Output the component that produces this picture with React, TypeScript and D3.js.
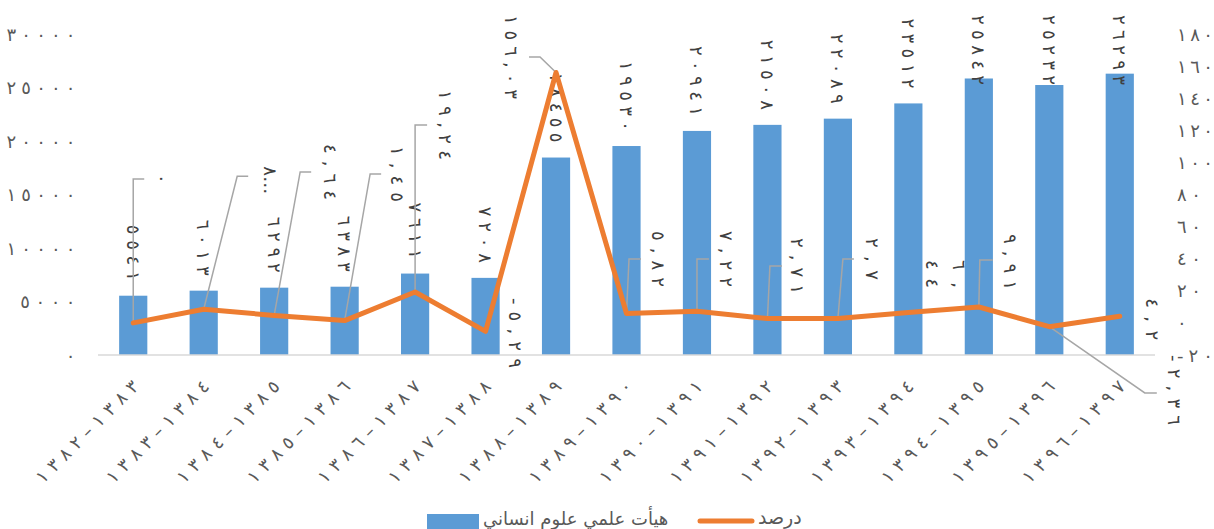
import React from 'react';
import * as d3 from 'd3';

// Academic staff in humanities and yearly growth rate (Iranian calendar years)
const categories = [
  '١٣٨٢–١٣٨٣', '١٣٨٣–١٣٨٤', '١٣٨٤–١٣٨٥', '١٣٨٥–١٣٨٦', '١٣٨٦–١٣٨٧',
  '١٣٨٧–١٣٨٨', '١٣٨٨–١٣٨٩', '١٣٨٩–١٣٩٠', '١٣٩٠–١٣٩١', '١٣٩١–١٣٩٢',
  '١٣٩٢–١٣٩٣', '١٣٩٣–١٣٩٤', '١٣٩٤–١٣٩٥', '١٣٩٥–١٣٩٦', '١٣٩٦–١٣٩٧',
];
const staffCounts = [5541, 6013, 6292, 6383, 7611, 7208, 18455, 19530, 20941, 21508, 22089, 23512, 25842, 25232, 26293];
const growthPercent = [0, 8.52, 4.64, 1.45, 19.24, -5.29, 156.03, 5.82, 7.22, 2.71, 2.7, 6.44, 9.91, -2.36, 4.2];
const leftTicks = [0, 5000, 10000, 15000, 20000, 25000, 30000];
const rightTicks = [-20, 0, 20, 40, 60, 80, 100, 120, 140, 160, 180];
const seriesNames = ['هيأت علمي علوم انساني', 'درصد'];

// Placement of each percentage label relative to its point:
// (lx, ly) label centre, (ex, ey) leader elbow, hx horizontal run after the elbow.
type Callout = { lx: number; ly: number; ex?: number; ey?: number; hx?: number; truncate?: number; wrap?: boolean };
const callouts: Callout[] = [
  { lx: 29, ly: -144, ex: 0, ey: -144, hx: 11 },
  { lx: 66.5, ly: -129, ex: 33.5, ey: -133, hx: 11, truncate: 1 },
  { lx: 56, ly: -143.5, ex: 26, ey: -143.5, hx: 11 },
  { lx: 52.5, ly: -146.6, ex: 25.5, ey: -146.6, hx: 11 },
  { lx: 30, ly: -167, ex: 0, ey: -167, hx: 12 },
  { lx: 29.5, ly: 1.5 },
  { lx: -45, ly: -15.5, ex: -16, ey: -15.5, hx: -11 },
  { lx: 31.5, ly: -54.6, ex: 2.5, ey: -54.6, hx: 12 },
  { lx: 30, ly: -52.3, ex: 0, ey: -52.3, hx: 12 },
  { lx: 30.5, ly: -52.5, ex: 2.5, ey: -52.5, hx: 12 },
  { lx: 35, ly: -59.6, ex: 5, ey: -59.6, hx: 11 },
  { lx: 37.5, ly: -38.6, wrap: true },
  { lx: 32, ly: -45, ex: 1, ey: -47, hx: 13 },
  { lx: 125.5, ly: 63.3, ex: 95.5, ey: 66.3, hx: 12 },
  { lx: 33, ly: 3 },
];

const W = 1214;
const H = 529;
const plot = { left: 98, right: 1155, top: 34, bottom: 355 };
const FONT = '"DejaVu Sans", sans-serif';
const LABEL_GRAY = '#404040';
const AXIS_GRAY = '#595959';
const BAR_BLUE = '#5B9BD5';
const LINE_ORANGE = '#ED7D31';

const arabicDigits = '٠١٢٣٤٥٦٧٨٩';
const toArabic = (s: string) => s.replace(/[0-9]/g, (d) => arabicDigits[+d]).replace(/\./g, ',').replace(/\u2212/g, '-');
const fmtPct = d3.format('.2~f');

const ltrNumber: React.CSSProperties = { unicodeBidi: 'bidi-override', direction: 'ltr' };

export default function App() {
  const x = d3.scaleBand<string>().domain(categories).range([plot.left, plot.right]).paddingInner(0.6).paddingOuter(0.3);
  const yL = d3.scaleLinear().domain([0, 30000]).range([plot.bottom, plot.top]);
  const yR = d3.scaleLinear().domain([-20, 180]).range([plot.bottom, plot.top]);
  const cx = (i: number) => (x(categories[i]) as number) + x.bandwidth() / 2;

  const line = d3
    .line<number>()
    .x((_, i) => cx(i))
    .y((d) => yR(d));

  const BAR_ADV = 14;
  const PCT_ADV = 14;
  const NUM_FS = 18;

  return (
    <svg width={W} height={H} style={{ position: 'absolute', left: 0, top: 0, fontFamily: FONT }}>
      <rect width={W} height={H} fill="#fff" />

      {/* left axis ticks */}
      {leftTicks.map((t) => {
        const s = toArabic(String(t));
        return (
          <text key={'l' + t} x={75.5} y={yL(t)} textAnchor="end" dominantBaseline="central" fontSize={NUM_FS}
            fill={AXIS_GRAY} textLength={s.length * 13.8} lengthAdjust="spacing" style={ltrNumber}>
            {s}
          </text>
        );
      })}

      {/* right axis ticks */}
      {rightTicks.map((t) => {
        const s = toArabic(String(t));
        return (
          <text key={'r' + t} x={1177} y={yR(t)} textAnchor="start" dominantBaseline="central" fontSize={NUM_FS}
            fill={AXIS_GRAY} textLength={s.length * 12} lengthAdjust="spacing" style={ltrNumber}>
            {s}
          </text>
        );
      })}

      {/* bars */}
      {staffCounts.map((v, i) => (
        <rect key={'b' + i} x={x(categories[i])} y={yL(v)} width={x.bandwidth()} height={yL(0) - yL(v)} fill={BAR_BLUE} />
      ))}

      {/* category axis line */}
      <line x1={plot.left} x2={plot.right} y1={plot.bottom} y2={plot.bottom} stroke="#D9D9D9" strokeWidth={1.3} />

      {/* category labels */}
      {categories.map((c, i) => {
        const ax = cx(i) + 2;
        const ay = 383;
        return (
          <text key={'c' + i} x={ax} y={ay} transform={`rotate(-45 ${ax} ${ay})`} textAnchor="end" dominantBaseline="central"
            fontSize={NUM_FS} fill={AXIS_GRAY} textLength={c.length * 15.2} lengthAdjust="spacing" style={ltrNumber}>
            {c}
          </text>
        );
      })}

      {/* bar value labels, rotated */}
      {staffCounts.map((v, i) => {
        const s = toArabic(String(v));
        const len = s.length * BAR_ADV;
        const start = Math.max(15, yL(v) - 15 - len);
        const lx = cx(i);
        return (
          <text key={'bl' + i} x={lx} y={start} transform={`rotate(90 ${lx} ${start})`} textAnchor="start"
            dominantBaseline="central" fontSize={NUM_FS} fill={LABEL_GRAY} textLength={len} lengthAdjust="spacing" style={ltrNumber}>
            {s}
          </text>
        );
      })}

      {/* leader lines */}
      {growthPercent.map((v, i) => {
        const c = callouts[i];
        if (c.ex === undefined || c.ey === undefined) return null;
        const px = cx(i);
        const py = yR(v);
        const pts = [
          [px, py],
          [px + c.ex, py + c.ey],
          [px + c.ex + (c.hx ?? 0), py + c.ey],
        ];
        return (
          <polyline key={'ld' + i} points={pts.map((p) => p.join(',')).join(' ')} fill="none" stroke="#A6A6A6" strokeWidth={1.5} />
        );
      })}

      {/* growth line */}
      <path d={line(growthPercent) ?? ''} fill="none" stroke={LINE_ORANGE} strokeWidth={5} strokeLinejoin="round" strokeLinecap="round" />

      {/* percentage labels */}
      {growthPercent.map((v, i) => {
        const c = callouts[i];
        let s = toArabic(fmtPct(v));
        if (c.truncate) s = s.slice(0, c.truncate) + '…';
        const lx = cx(i) + c.lx;
        const ly = yR(v) + c.ly;
        if (c.wrap) {
          const k = s.indexOf(',') + 1;
          const parts = [s.slice(0, k), s.slice(k)];
          return (
            <g key={'pl' + i} transform={`rotate(90 ${lx} ${ly})`}>
              {parts.map((p, j) => (
                <text key={j} x={lx} y={ly + (j - 0.5) * 27.5} textAnchor="middle" dominantBaseline="central" fontSize={NUM_FS}
                  fill={LABEL_GRAY} style={ltrNumber} textLength={p.length * PCT_ADV} lengthAdjust="spacing">
                  {p}
                </text>
              ))}
            </g>
          );
        }
        return (
          <text key={'pl' + i} x={lx} y={ly} transform={`rotate(90 ${lx} ${ly})`} textAnchor="middle" dominantBaseline="central"
            fontSize={NUM_FS} fill={LABEL_GRAY} textLength={s.length * PCT_ADV} lengthAdjust="spacing" style={ltrNumber}>
            {s}
          </text>
        );
      })}

      {/* legend */}
      <rect x={427} y={514} width={52} height={15} fill={BAR_BLUE} />
      <text x={483} y={518} textAnchor="start" dominantBaseline="central" fontSize={18} fill={AXIS_GRAY}>
        {seriesNames[0]}
      </text>
      <line x1={700} x2={752} y1={521} y2={521} stroke={LINE_ORANGE} strokeWidth={5} strokeLinecap="round" />
      <text x={758} y={517} textAnchor="start" dominantBaseline="central" fontSize={19} fill={AXIS_GRAY}>
        {seriesNames[1]}
      </text>
    </svg>
  );
}
